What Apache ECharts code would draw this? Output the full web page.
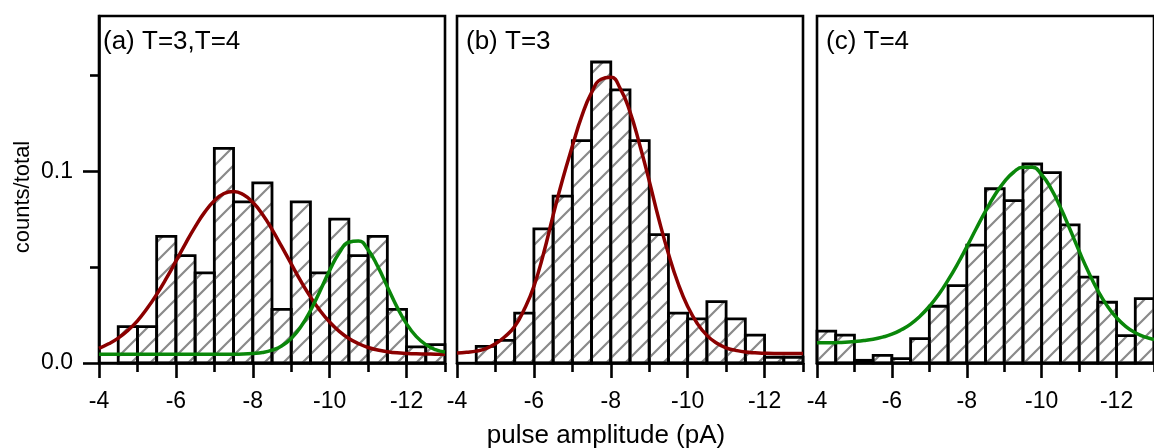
<!DOCTYPE html>
<html>
<head>
<meta charset="utf-8">
<script src="https://cdn.jsdelivr.net/npm/echarts@6/dist/echarts.min.js"></script>
<style>
  html, body { margin: 0; padding: 0; background: #fff; }
  #main { width: 1154px; height: 448px; }
</style>
</head>
<body>
<div id="main"></div>
<script>
var chartDom = document.getElementById('main');
var myChart = echarts.init(chartDom);
var option;

// histogram bins (left edge, pA), each 0.5 pA wide
var binLeft = [-4, -4.5, -5, -5.5, -6, -6.5, -7, -7.5, -8, -8.5, -9, -9.5, -10, -10.5, -11, -11.5, -12, -12.5];
var countsA = [0, 0.019, 0.019, 0.066, 0.056, 0.047, 0.112, 0.084, 0.094, 0.028, 0.084, 0.047, 0.075, 0.056, 0.066, 0.028, 0.0084, 0.0096];
var countsB = [0, 0.0087, 0.0118, 0.026, 0.070, 0.087, 0.116, 0.157, 0.1425, 0.116, 0.067, 0.026, 0.023, 0.032, 0.023, 0.0145, 0.003, 0.003];
var countsC = [0.0166, 0.0145, 0.0014, 0.004, 0.0023, 0.0127, 0.0296, 0.0404, 0.0615, 0.0909, 0.0847, 0.1038, 0.0993, 0.072, 0.0448, 0.0317, 0.0143, 0.0336];

// fitted curves
var fitX = [-4, -4.25, -4.5, -4.75, -5, -5.25, -5.5, -5.75, -6, -6.25, -6.5, -6.75, -7, -7.25, -7.5, -7.75, -8, -8.25, -8.5,
            -8.75, -9, -9.25, -9.5, -9.75, -10, -10.25, -10.5, -10.75, -11, -11.25, -11.5, -11.75, -12, -12.25, -12.5, -12.75, -13];
var fitRedA = [0.0076, 0.0100, 0.0130, 0.0170, 0.0220, 0.0284, 0.0358, 0.0441, 0.0531, 0.0623, 0.0710, 0.0787, 0.0846, 0.0884, 0.0895, 0.0879, 0.0838, 0.0776, 0.0697,
               0.0608, 0.0517, 0.0427, 0.0345, 0.0273, 0.0213, 0.0165, 0.0128, 0.0101, 0.0081, 0.0068, 0.0059, 0.0053, 0.0050, 0.0048, 0.0047, 0.0046, 0.0045];
var fitGreenA = [0.0046, 0.0046, 0.0046, 0.0046, 0.0046, 0.0046, 0.0046, 0.0046, 0.0046, 0.0046, 0.0046, 0.0046, 0.0046, 0.0046, 0.0046, 0.0047, 0.0050, 0.0055, 0.0067,
                 0.0089, 0.0128, 0.0189, 0.0273, 0.0376, 0.0483, 0.0575, 0.0630, 0.0636, 0.0590, 0.0504, 0.0398, 0.0293, 0.0204, 0.0139, 0.0096, 0.0070, 0.0057];
var fitRedB = [0.0052, 0.0056, 0.0062, 0.0075, 0.0100, 0.0138, 0.0190, 0.0280, 0.0400, 0.0570, 0.0770, 0.0960, 0.1130, 0.1290, 0.1410, 0.1480, 0.1490, 0.1430, 0.1310,
               0.1140, 0.0950, 0.0750, 0.0570, 0.0416, 0.0295, 0.0206, 0.0144, 0.0104, 0.0079, 0.0066, 0.0057, 0.0053, 0.0051, 0.0050, 0.0050, 0.0050, 0.0050];
var fitGreenC = [0.0105, 0.0105, 0.0106, 0.0108, 0.0112, 0.0117, 0.0124, 0.0135, 0.0150, 0.0173, 0.0203, 0.0244, 0.0295, 0.0357, 0.0432, 0.0515, 0.0606, 0.0700, 0.0792,
                 0.0876, 0.0945, 0.0995, 0.1021, 0.1021, 0.0982, 0.0910, 0.0812, 0.0700, 0.0584, 0.0475, 0.0378, 0.0298, 0.0236, 0.0190, 0.0158, 0.0136, 0.0123];

var xMajorTicks = [-12, -10, -8, -6, -4];
var xMinorTicks = [-13, -11, -9, -7, -5];
var yMajorTicks = [0, 0.1];
var yMinorTicks = [0.05, 0.15];

var FONT = 'Liberation Sans, Arial, sans-serif';
var RED = '#8b0000';
var GREEN = '#0a870a';

// diagonal hatch used as bar fill
var hatchCanvas = document.createElement('canvas');
var hs = 19;
hatchCanvas.width = hs;
hatchCanvas.height = hs;
var hctx = hatchCanvas.getContext('2d');
hctx.strokeStyle = '#8a8a8a';
hctx.lineWidth = 2.2;
hctx.beginPath();
hctx.moveTo(-2, hs + 2); hctx.lineTo(hs + 2, -2);
hctx.moveTo(-2, 2); hctx.lineTo(2, -2);
hctx.moveTo(hs - 2, hs + 2); hctx.lineTo(hs + 2, hs - 2);
hctx.stroke();
var hatch = { image: hatchCanvas, repeat: 'repeat' };

function binData(counts) {
    return binLeft.map(function (x, i) { return [x, x - 0.5, counts[i]]; });
}

function curveData(ys) {
    return fitX.map(function (x, i) { return [x, ys[i]]; });
}

function renderBin(params, api) {
    var h = api.value(2);
    if (!h) return null;
    var p0 = api.coord([api.value(0), h]);
    var p1 = api.coord([api.value(1), 0]);
    return {
        type: 'rect',
        shape: {
            x: Math.min(p0[0], p1[0]),
            y: p0[1],
            width: Math.abs(p1[0] - p0[0]),
            height: p1[1] - p0[1]
        },
        style: { fill: hatch, stroke: '#000', lineWidth: 2.8 }
    };
}

var lefts = [99, 457, 817];
var grids = lefts.map(function (l) {
    return { left: l, top: 16, width: 346, height: 347, show: true, borderColor: '#000', borderWidth: 2.6 };
});

var tickLabel = { margin: 27, color: '#000', fontSize: 23, fontFamily: FONT };

var xAxes = [];
lefts.forEach(function (l, i) {
    xAxes.push({
        type: 'value', gridIndex: i, min: -13, max: -4, inverse: true, position: 'bottom',
        axisLine: { show: true, onZero: false, lineStyle: { color: '#000', width: 2.6 } },
        axisTick: { show: true, length: 15, customValues: xMajorTicks, lineStyle: { color: '#000', width: 2.6 } },
        axisLabel: Object.assign({ customValues: xMajorTicks }, tickLabel),
        splitLine: { show: false }
    });
    xAxes.push({
        type: 'value', gridIndex: i, min: -13, max: -4, inverse: true, position: 'bottom',
        axisLine: { show: false },
        axisTick: { show: true, length: 9, customValues: xMinorTicks, lineStyle: { color: '#000', width: 2.6 } },
        axisLabel: { show: false },
        splitLine: { show: false }
    });
});

var yAxes = [
    {
        type: 'value', gridIndex: 0, min: 0, max: 0.181, position: 'left',
        axisLine: { show: true, lineStyle: { color: '#000', width: 2.6 } },
        axisTick: { show: true, length: 16, customValues: yMajorTicks, lineStyle: { color: '#000', width: 2.6 } },
        axisLabel: Object.assign({ customValues: yMajorTicks, formatter: function (v) { return v.toFixed(1); } },
                                 tickLabel, { margin: 26 }),
        splitLine: { show: false }
    },
    {
        type: 'value', gridIndex: 0, min: 0, max: 0.181, position: 'left',
        axisLine: { show: false },
        axisTick: { show: true, length: 9, customValues: yMinorTicks, lineStyle: { color: '#000', width: 2.6 } },
        axisLabel: { show: false },
        splitLine: { show: false }
    },
    { type: 'value', gridIndex: 1, min: 0, max: 0.181, show: false, splitLine: { show: false } },
    { type: 'value', gridIndex: 2, min: 0, max: 0.181, show: false, splitLine: { show: false } }
];

function barSeries(counts, xi, yi) {
    return {
        type: 'custom', xAxisIndex: xi, yAxisIndex: yi, renderItem: renderBin,
        encode: { x: [0, 1], y: 2 }, data: binData(counts), z: 2, silent: true
    };
}

function fitSeries(ys, color, xi, yi) {
    return {
        type: 'line', xAxisIndex: xi, yAxisIndex: yi, data: curveData(ys), smooth: true,
        showSymbol: false, lineStyle: { color: color, width: 3.5 }, z: 5, silent: true
    };
}

function textItem(text, x, y, align, size, rot) {
    return {
        type: 'text', x: x, y: y, rotation: rot || 0,
        style: {
            text: text, fill: '#000', fontSize: size, fontFamily: FONT,
            align: align, verticalAlign: 'middle', textAlign: align, textVerticalAlign: 'middle'
        }
    };
}

option = {
    animation: false,
    backgroundColor: '#fff',
    textStyle: { fontFamily: FONT, fontSize: 22 },
    grid: grids,
    xAxis: xAxes,
    yAxis: yAxes,
    series: [
        barSeries(countsA, 0, 0),
        fitSeries(fitRedA, RED, 0, 0),
        fitSeries(fitGreenA, GREEN, 0, 0),
        barSeries(countsB, 2, 2),
        fitSeries(fitRedB, RED, 2, 2),
        barSeries(countsC, 4, 3),
        fitSeries(fitGreenC, GREEN, 4, 3)
    ],
    graphic: [
        textItem('(a) T=3,T=4', 103, 42, 'left', 26),
        textItem('(b) T=3', 466, 42, 'left', 26),
        textItem('(c) T=4', 826, 42, 'left', 26),
        textItem('pulse amplitude (pA)', 606, 436, 'center', 26),
        textItem('counts/total', 23, 197, 'center', 22, Math.PI / 2)
    ]
};

option && myChart.setOption(option);
</script>
</body>
</html>
